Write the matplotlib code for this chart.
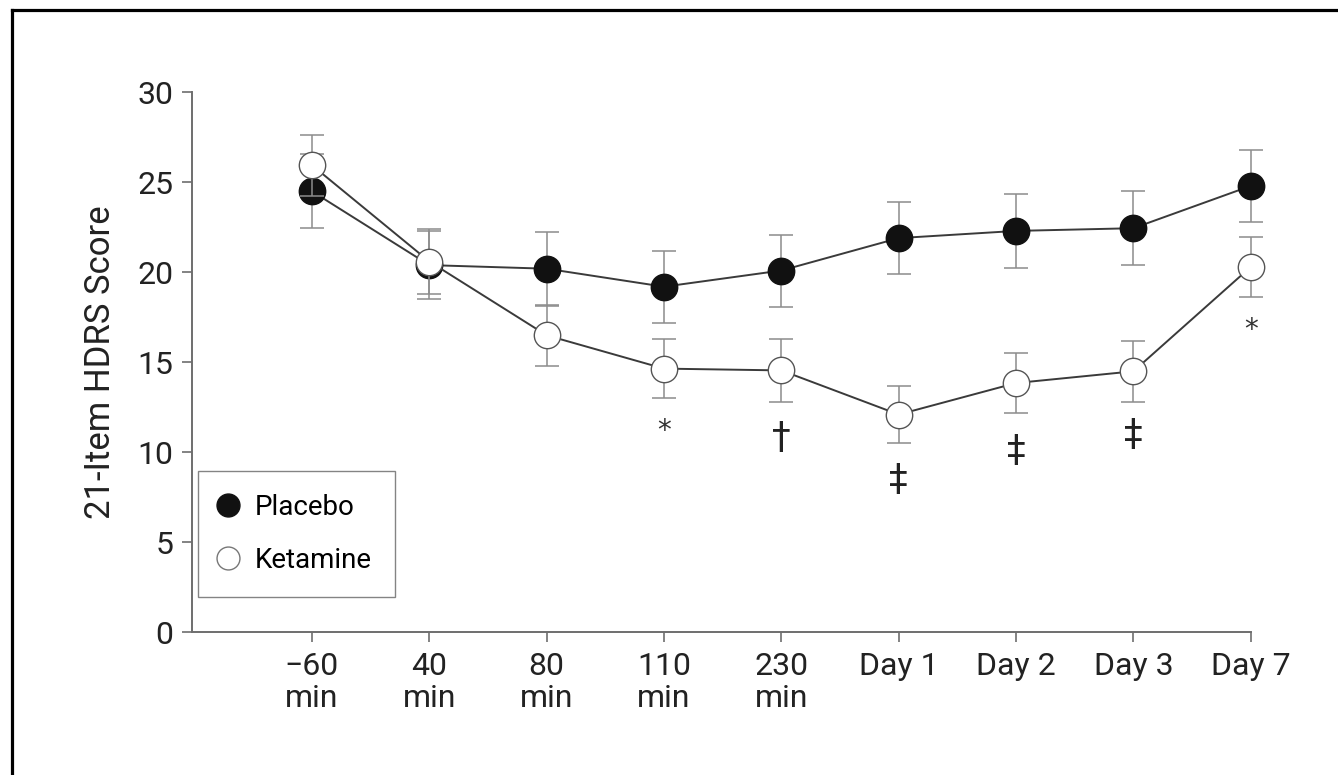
"""
Plot 21-item HDRS score over time for placebo and ketamine
"""

import matplotlib.pyplot as plt
from matplotlib.lines import Line2D


OUTFILE_DEF = 'out.png'

TIMES = ['\u221260\nmin', '40\nmin', '80\nmin', '110\nmin', '230\nmin',
         'Day 1', 'Day 2', 'Day 3', 'Day 7']
PLACEBO = [24.5, 20.4, 20.2, 19.2, 20.1, 21.9, 22.3, 22.45, 24.8]
PLACEBO_ERR = [2.05, 1.9, 2.05, 2.0, 2.0, 2.0, 2.05, 2.05, 2.0]
KETAMINE = [25.95, 20.6, 16.5, 14.65, 14.55, 12.1, 13.85, 14.5, 20.3]
KETAMINE_ERR = [1.7, 1.8, 1.7, 1.65, 1.75, 1.6, 1.65, 1.7, 1.65]
# significance marks under the ketamine points: (time index, y, symbol)
SIG_IDX = [3, 4, 5, 6, 7, 8]
SIG_Y = [11.2, 10.8, 8.45, 10.1, 10.95, 16.8]
SIG_SYM = ['*', '\u2020', '\u2021', '\u2021', '\u2021', '*']

FONT = ['Roboto', 'DejaVu Sans']
LINE_C = '#3a3a3a'
ERR_C = '#8c8c8c'
SPINE_C = '#6e6e6e'


def plot(outfile: str):
  """Draws the chart

  Args:
    outfile: output file to write chart to
  """
  plt.rcParams['font.family'] = FONT
  fig = plt.figure(figsize=(13.38, 7.75), dpi=100)
  ax = fig.add_axes([0.1437, 0.1841, 0.7911, 0.6968])
  x = list(range(len(TIMES)))

  for vals, errs, face, edge, z in [(PLACEBO, PLACEBO_ERR, '#111111', '#111111', 3),
                                    (KETAMINE, KETAMINE_ERR, 'white', '#555555', 4)]:
    ax.errorbar(x, vals, yerr=errs, fmt='none', ecolor=ERR_C, elinewidth=1.1,
                capsize=8.3, capthick=1.1, zorder=z - 1, clip_on=False)
    ax.plot(x, vals, color=LINE_C, linewidth=1.4, marker='o', markersize=19,
            markerfacecolor=face, markeredgecolor=edge, markeredgewidth=1.0,
            zorder=z, clip_on=False)

  for i, yv, s in zip(SIG_IDX, SIG_Y, SIG_SYM):
    if s == '*':
      ax.text(i, yv, s, ha='center', va='center', fontsize=20,
              family='DejaVu Sans', color='#333333')
    else:
      ax.text(i, yv, s, ha='center', va='center', fontsize=27,
              family='DejaVu Sans', color='#222222')

  ax.set_xlim(-1.02, 8)
  ax.set_ylim(0, 30)
  ax.set_yticks([0, 5, 10, 15, 20, 25, 30])
  ax.set_xticks(x)
  ax.set_xticklabels(TIMES, linespacing=1.1, va='top')
  ax.tick_params(axis='both', labelsize=23, colors=SPINE_C, labelcolor='#222222',
                 width=1.2)
  ax.tick_params(axis='x', length=7.5, pad=7)
  ax.tick_params(axis='y', length=7.5, pad=6)
  for side in ['top', 'right']:
    ax.spines[side].set_visible(False)
  for side in ['left', 'bottom']:
    ax.spines[side].set_color(SPINE_C)
    ax.spines[side].set_linewidth(1.4)
  ax.set_ylabel('21-Item HDRS Score', fontsize=25, color='#222222', labelpad=15)

  handles = [Line2D([], [], linestyle='none', marker='o', markersize=16.5,
                    markerfacecolor='#111111', markeredgecolor='#111111'),
             Line2D([], [], linestyle='none', marker='o', markersize=16.5,
                    markerfacecolor='white', markeredgecolor='#777777')]
  leg = ax.legend(handles, ['Placebo', 'Ketamine'], loc='upper left',
                  bbox_to_anchor=(0.0054, 0.2987), borderaxespad=0,
                  fancybox=False, frameon=True, prop=dict(family=FONT, size=20),
                  handlelength=0.5, handletextpad=0.72, borderpad=0.83,
                  labelspacing=0.94)
  leg.get_frame().set_edgecolor('#666666')
  leg.get_frame().set_linewidth(1.0)

  # outer frame, top and left edges only
  fig.add_artist(Line2D([0.0086, 1.0], [0.9877, 0.9877], color='black',
                        linewidth=2.3, transform=fig.transFigure))
  fig.add_artist(Line2D([0.0086, 0.0086], [0.0, 0.9877], color='black',
                        linewidth=2.3, transform=fig.transFigure))

  plt.savefig(outfile, dpi=100)
  plt.close()


def main():
  plot(OUTFILE_DEF)


if __name__ == "__main__":
  main()
